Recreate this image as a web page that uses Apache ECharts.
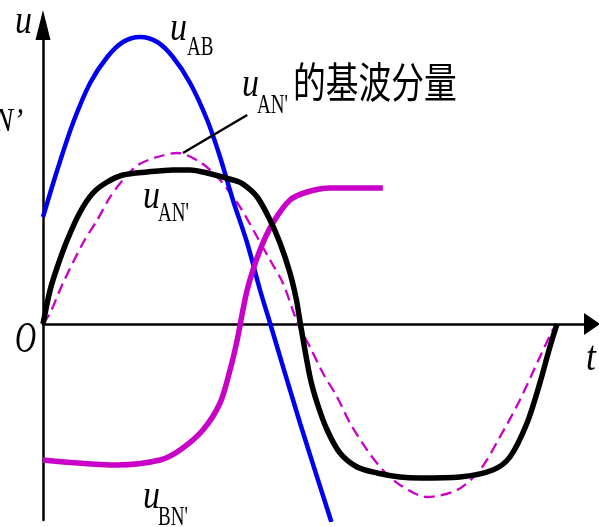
<!DOCTYPE html>
<html>
<head>
    <meta charset="utf-8" />
    <style>
        html, body { margin: 0; padding: 0; background: #fff; }
        #chart { width: 599px; height: 527px; }
    </style>
    <script src="https://cdn.jsdelivr.net/npm/echarts@6/dist/echarts.min.js"></script>
</head>
<body>
    <div id="chart"></div>
    <script type="text/javascript">
        // t in electrical degrees, u in relative units
        var abT = [0, 10, 21, 33, 45, 56, 68, 80, 91, 103, 115, 124, 133, 143, 152, 159, 180, 202];
        var abU = [1.07, 1.54, 2.01, 2.41, 2.67, 2.82, 2.87, 2.82, 2.67, 2.41, 2.04, 1.67, 1.24, 0.81, 0.34, 0.01, -0.99, -1.98];

        var anT = [0, 5, 10, 17, 26, 35, 45, 56, 73, 91, 103, 115, 133, 140, 150, 159, 166, 173, 177.5, 180.3,
                   187, 192, 199, 208, 220, 234, 250, 264, 292, 315, 327, 339, 348, 355, 360];
        var anU = [0, 0.34, 0.57, 0.84, 1.12, 1.31, 1.42, 1.49, 1.52, 1.54, 1.54, 1.51, 1.44, 1.40, 1.27, 1.04, 0.81, 0.51, 0.24, 0,
                   -0.53, -0.79, -1.06, -1.29, -1.43, -1.49, -1.53, -1.54, -1.53, -1.46, -1.33, -0.99, -0.59, -0.23, 0];

        var fundT = [0, 5, 14, 28, 38, 47, 56, 66.5, 80, 94, 110, 124, 138, 150, 159, 168, 178.6,
                     187, 196, 206, 215, 227, 238, 250, 269, 290, 306, 320, 334, 348, 357, 360];
        var fundU = [0, 0.11, 0.41, 0.81, 1.04, 1.27, 1.44, 1.59, 1.67, 1.71, 1.62, 1.44, 1.17, 0.87, 0.64, 0.41, 0,
                     -0.23, -0.49, -0.73, -0.99, -1.26, -1.46, -1.61, -1.73, -1.66, -1.46, -1.13, -0.76, -0.33, -0.06, 0];

        var bnT = [0, 52, 82, 96, 112, 124, 131, 136, 143, 152, 161, 173, 185, 201, 238];
        var bnU = [-1.36, -1.41, -1.36, -1.26, -1.06, -0.79, -0.46, -0.16, 0.34, 0.74, 1.01, 1.24, 1.32, 1.36, 1.36];

        // leader line for the fundamental label
        var leadT = [98, 143];
        var leadU = [1.71, 2.09];

        function pairs(xs, ys) {
            var out = [];
            for (var i = 0; i < xs.length; i++) {
                out.push([xs[i], ys[i]]);
            }
            return out;
        }

        var serif = '"Liberation Serif", "Times New Roman", serif';
        var cjk = '"Noto Sans CJK SC", sans-serif';

        function label(x, y, text, font, sx, align) {
            return {
                type: 'text',
                x: x,
                y: y,
                scaleX: sx,
                z: 100,
                style: {
                    text: text,
                    font: font,
                    fill: '#000',
                    textAlign: align || 'left',
                    textVerticalAlign: 'middle'
                }
            };
        }

        var myChart = echarts.init(document.getElementById('chart'));

        var option = {
            animation: false,
            grid: { left: 43, right: 7, top: 25, bottom: 7 },
            xAxis: {
                type: 'value',
                min: 0,
                max: 384.5,
                axisLine: {
                    onZero: true,
                    symbol: ['none', 'triangle'],
                    symbolSize: [22, 16],
                    lineStyle: { color: '#000', width: 2.5 }
                },
                axisTick: { show: false },
                axisLabel: { show: false },
                splitLine: { show: false }
            },
            yAxis: {
                type: 'value',
                min: -1.96,
                max: 2.99,
                axisLine: {
                    show: true,
                    symbol: ['none', 'triangle'],
                    symbolSize: [15, 30],
                    lineStyle: { color: '#000', width: 2.5 }
                },
                axisTick: { show: false },
                axisLabel: { show: false },
                splitLine: { show: false }
            },
            series: [
                {
                    name: 'fund',
                    type: 'line',
                    data: pairs(fundT, fundU),
                    smooth: 0.3,
                    showSymbol: false,
                    lineStyle: { color: '#c800c8', width: 2.3, type: [11, 6] },
                    z: 2
                },
                {
                    name: 'uAB',
                    type: 'line',
                    data: pairs(abT, abU),
                    smooth: 0.3,
                    showSymbol: false,
                    lineStyle: { color: '#0000f0', width: 4.5 },
                    z: 3
                },
                {
                    name: 'uBN',
                    type: 'line',
                    data: pairs(bnT, bnU),
                    smooth: 0.3,
                    showSymbol: false,
                    lineStyle: { color: '#c800c8', width: 5.5 },
                    z: 4
                },
                {
                    name: 'uAN',
                    type: 'line',
                    data: pairs(anT, anU),
                    smooth: 0.3,
                    showSymbol: false,
                    lineStyle: { color: '#000', width: 5.5 },
                    z: 5
                },
                {
                    name: 'lead',
                    type: 'line',
                    data: pairs(leadT, leadU),
                    showSymbol: false,
                    lineStyle: { color: '#000', width: 2.5 },
                    z: 6
                }
            ],
            graphic: [
                label(15, 22, 'u', 'italic 40px ' + serif, 0.85),
                label(15, 340, 'O', 'italic 45px ' + serif, 0.65),
                label(586, 359, 't', 'italic 42px ' + serif, 0.85),
                label(23, 122, 'N’', 'italic 34px ' + serif, 0.85, 'right'),
                label(170, 29, 'u', 'italic 40px ' + serif, 0.85),
                label(187, 48, 'AB', '28px ' + serif, 0.68),
                label(143, 197, 'u', 'italic 40px ' + serif, 0.85),
                label(158, 214, 'AN\'', '28px ' + serif, 0.68),
                label(242, 85, 'u', 'italic 40px ' + serif, 0.85),
                label(257, 106, 'AN\'', '28px ' + serif, 0.68),
                label(293, 82, '的基波分量', '42px ' + cjk, 0.78),
                label(143, 497, 'u', 'italic 40px ' + serif, 0.85),
                label(158, 518, 'BN\'', '28px ' + serif, 0.68)
            ]
        };

        myChart.setOption(option);
    </script>
</body>
</html>
